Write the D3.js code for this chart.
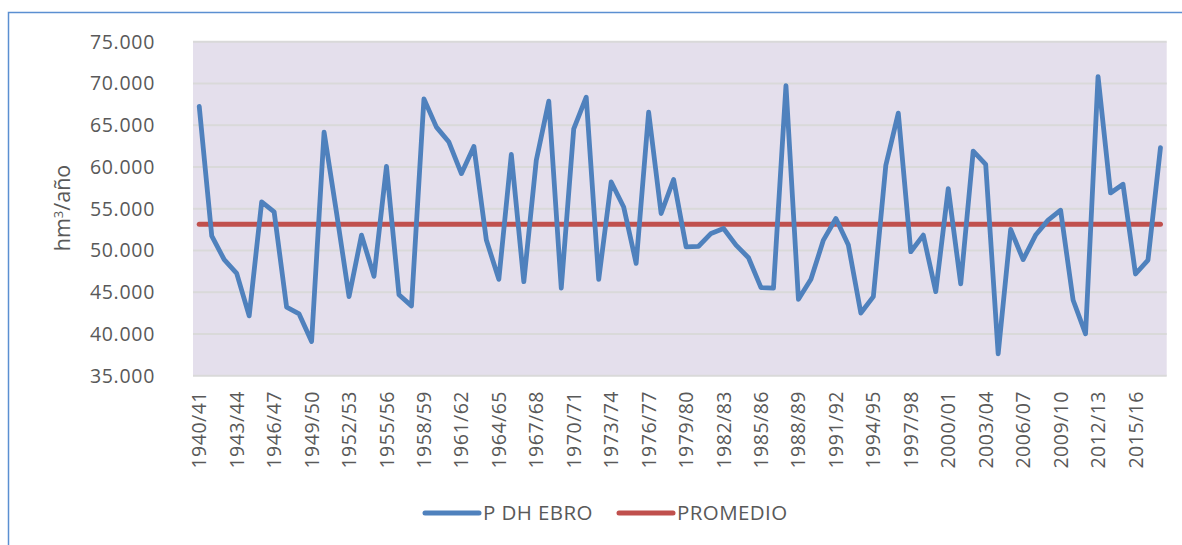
<!DOCTYPE html>
<meta charset="utf-8">
<title>P DH EBRO</title>
<style>
	body { margin: 0; background: #fff; }
	text { font-family: "Open Sans", sans-serif; fill: #595959; }
	.grid line { stroke: #d9d9d9; stroke-width: 2px; }
	.serie { fill: none; stroke-linejoin: round; stroke-linecap: round; }
</style>
<body>
<script src="https://cdn.jsdelivr.net/npm/d3@7"></script>
<script>
	// años hidrológicos 1940/41 ... 2017/18
	const startYears = d3.range(1940, 2018);
	const labels = startYears.map(y => y + '/' + String((y + 1) % 100).padStart(2, '0'));

	// aportación (hm3/año)
	const ebro = [
		67240, 51750, 48900, 47260, 42160, 55810, 54620, 43200, 42400, 39100,
		64170, 54500, 44470, 51840, 46900, 60070, 44700, 43360, 68150, 64770,
		62980, 59200, 62460, 51240, 46540, 61500, 46260, 60800, 67880, 45500,
		64570, 68350, 46540, 58200, 55200, 48450, 66560, 54420, 58500, 50440,
		50500, 52040, 52630, 50640, 49130, 45550, 45500, 69750, 44150, 46540,
		51240, 53830, 50640, 42500, 44470, 60200, 66440, 49850, 51840, 45070,
		57400, 46000, 61900, 60310, 37630, 52510, 48900, 51840, 53630, 54820,
		44070, 40010, 70820, 56890, 57930, 47180, 48850, 62300
	];
	const promedio = 53150;

	const yTicks = d3.range(35000, 75001, 5000);
	const series = ['P DH EBRO', 'PROMEDIO'];
	const colors = ['#4f81bd', '#c0504d'];

	const W = 1182, H = 545;
	const plot = { left: 193, right: 1166.7, top: 41.7, bottom: 375.7 };

	const svg = d3.select('body').append('svg')
		.attr('width', W).attr('height', H);

	// marco
	svg.append('path')
		.attr('d', `M8.5,${H} V12.5 H${W}`)
		.attr('fill', 'none')
		.attr('stroke', '#5b8fd1')
		.attr('stroke-width', 1.5);

	const x = d3.scaleBand().domain(labels).range([plot.left, plot.right]);
	const y = d3.scaleLinear().domain([35000, 75000]).range([plot.bottom, plot.top]);
	const cx = d => x(d) + x.bandwidth() / 2;

	svg.append('rect')
		.attr('x', plot.left).attr('y', plot.top)
		.attr('width', plot.right - plot.left).attr('height', plot.bottom - plot.top)
		.attr('fill', '#e4dfec');

	svg.append('g').attr('class', 'grid')
		.selectAll('line').data(yTicks).enter().append('line')
		.attr('x1', plot.left).attr('x2', plot.right)
		.attr('y1', d => y(d)).attr('y2', d => y(d));

	// eje y
	const fmt = d3.formatLocale({ decimal: ',', thousands: '.', grouping: [3], currency: ['', '€'] }).format(',.0f');
	svg.append('g')
		.selectAll('text').data(yTicks).enter().append('text')
		.attr('x', 155).attr('y', d => y(d)).attr('dy', '0.35em')
		.attr('text-anchor', 'end')
		.style('font-size', '19.5px').style('letter-spacing', '0.7px')
		.text(d => fmt(d));

	const yt = svg.append('text')
		.attr('transform', 'translate(70,208) rotate(-90)')
		.attr('text-anchor', 'middle')
		.style('font-size', '21.5px');
	yt.append('tspan').text('hm');
	yt.append('tspan').attr('dy', '-7').style('font-size', '13px').text('3');
	yt.append('tspan').attr('dy', '7').text('/año');

	// eje x
	svg.append('g')
		.selectAll('text').data(labels.filter((d, i) => i % 3 === 0)).enter().append('text')
		.attr('transform', d => `translate(${cx(d)},391) rotate(-90)`)
		.attr('dy', '0.36em')
		.attr('text-anchor', 'end')
		.style('font-size', '19.5px').style('letter-spacing', '0.5px')
		.text(d => d);

	// series
	const line = d3.line().x((d, i) => cx(labels[i])).y(d => y(d));
	svg.append('path').attr('class', 'serie')
		.attr('d', line(labels.map(() => promedio)))
		.attr('stroke', colors[1]).attr('stroke-width', 5);
	svg.append('path').attr('class', 'serie')
		.attr('d', line(ebro))
		.attr('stroke', colors[0]).attr('stroke-width', 4.8);

	// leyenda
	const legX = [425, 619];
	const leg = svg.append('g').selectAll('g').data(series).enter().append('g')
		.attr('transform', (d, i) => `translate(${legX[i]},513)`);
	leg.append('line')
		.attr('x1', 0).attr('x2', 54)
		.attr('stroke', (d, i) => colors[i]).attr('stroke-width', 5)
		.attr('stroke-linecap', 'round');
	leg.append('text')
		.attr('x', 58).attr('dy', '0.36em')
		.style('font-size', '20.5px').style('letter-spacing', '0.4px')
		.text(d => d);
</script>
</body>
